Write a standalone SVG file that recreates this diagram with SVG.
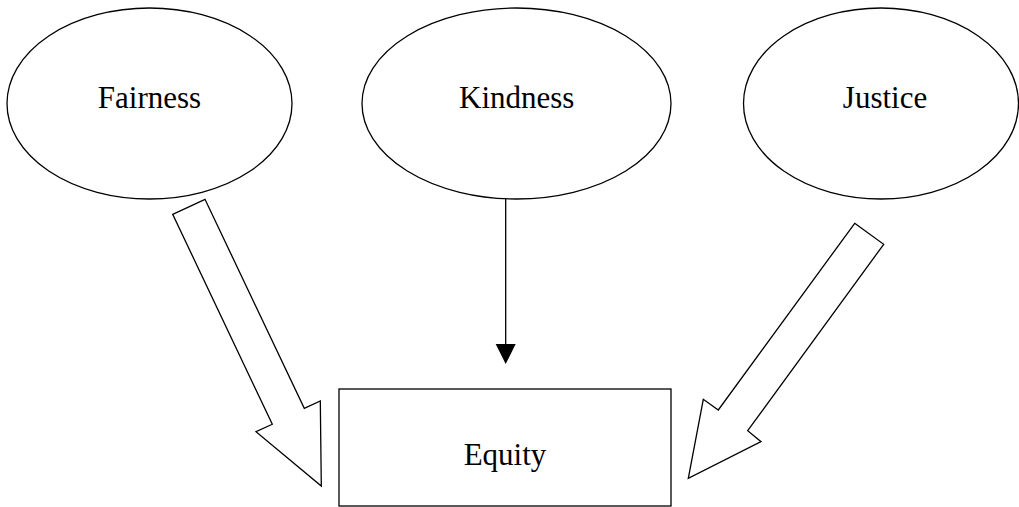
<svg xmlns="http://www.w3.org/2000/svg" width="1019" height="507" viewBox="0 0 1019 507">
  <style>
    .shape { fill: #ffffff; stroke: #000000; stroke-width: 1.3; }
    .block { fill: #ffffff; stroke: #000000; stroke-width: 1.3; stroke-linejoin: miter; }
    .line { fill: none; stroke: #000000; stroke-width: 1.3; }
    .label { font-family: "Liberation Serif", "Times New Roman", serif; font-size: 31px; fill: #000000; text-anchor: middle; }
  </style>
  <rect x="0" y="0" width="1019" height="507" fill="#ffffff"/>

  <g id="fairness">
    <ellipse class="shape" cx="149.5" cy="103.5" rx="142.5" ry="95.5"/>
    <text class="label" x="149.5" y="108">Fairness</text>
  </g>

  <g id="kindness">
    <ellipse class="shape" cx="516.5" cy="103.5" rx="154.5" ry="95.5"/>
    <text class="label" x="516.7" y="108">Kindness</text>
  </g>

  <g id="justice">
    <ellipse class="shape" cx="881" cy="103.5" rx="137.5" ry="95.5"/>
    <text class="label" x="885" y="108">Justice</text>
  </g>

  <g id="equity">
    <rect class="shape" x="339" y="389" width="332" height="117"/>
    <text class="label" x="505" y="465">Equity</text>
  </g>

  <g id="connectors">
    <!-- hollow block arrow from Fairness -->
    <polygon class="block" points="172.7,214.3 205,199.3 304.3,408.3 320.3,401 321.3,486 256,431.7 272.3,424.3"/>
    <!-- thin arrow from Kindness -->
    <line class="line" x1="505.7" y1="198" x2="505.7" y2="344"/>
    <path d="M495.7,344 L515.7,344 L505.7,364 Z" fill="#000000"/>
    <!-- hollow block arrow from Justice -->
    <polygon class="block" points="854.7,223.3 883.7,244.3 747.7,430.7 761,441.7 688.3,478.3 703.3,399.3 718.3,410"/>
  </g>
</svg>
